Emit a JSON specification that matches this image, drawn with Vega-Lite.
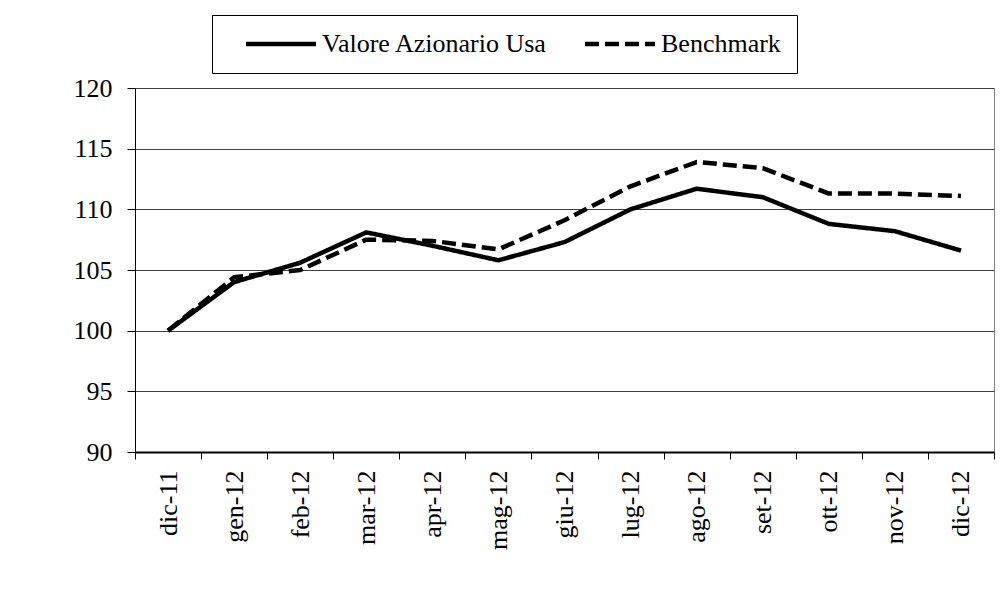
{
  "$schema": "https://vega.github.io/schema/vega-lite/v6.json",
  "width": 859,
  "height": 364,
  "autosize": {"type": "none"},
  "padding": {"left": 135, "top": 88, "right": 8, "bottom": 139},
  "background": "white",
  "data": {
    "values": [
      {"mese": "dic-11", "serie": "Valore Azionario Usa", "valore": 100.0},
      {"mese": "gen-12", "serie": "Valore Azionario Usa", "valore": 104.0},
      {"mese": "feb-12", "serie": "Valore Azionario Usa", "valore": 105.6},
      {"mese": "mar-12", "serie": "Valore Azionario Usa", "valore": 108.1},
      {"mese": "apr-12", "serie": "Valore Azionario Usa", "valore": 107.0},
      {"mese": "mag-12", "serie": "Valore Azionario Usa", "valore": 105.8},
      {"mese": "giu-12", "serie": "Valore Azionario Usa", "valore": 107.3},
      {"mese": "lug-12", "serie": "Valore Azionario Usa", "valore": 110.0},
      {"mese": "ago-12", "serie": "Valore Azionario Usa", "valore": 111.7},
      {"mese": "set-12", "serie": "Valore Azionario Usa", "valore": 111.0},
      {"mese": "ott-12", "serie": "Valore Azionario Usa", "valore": 108.8},
      {"mese": "nov-12", "serie": "Valore Azionario Usa", "valore": 108.2},
      {"mese": "dic-12", "serie": "Valore Azionario Usa", "valore": 106.6},
      {"mese": "dic-11", "serie": "Benchmark", "valore": 100.0},
      {"mese": "gen-12", "serie": "Benchmark", "valore": 104.4},
      {"mese": "feb-12", "serie": "Benchmark", "valore": 105.0},
      {"mese": "mar-12", "serie": "Benchmark", "valore": 107.5},
      {"mese": "apr-12", "serie": "Benchmark", "valore": 107.4},
      {"mese": "mag-12", "serie": "Benchmark", "valore": 106.7},
      {"mese": "giu-12", "serie": "Benchmark", "valore": 109.1},
      {"mese": "lug-12", "serie": "Benchmark", "valore": 111.9},
      {"mese": "ago-12", "serie": "Benchmark", "valore": 113.9},
      {"mese": "set-12", "serie": "Benchmark", "valore": 113.4},
      {"mese": "ott-12", "serie": "Benchmark", "valore": 111.3},
      {"mese": "nov-12", "serie": "Benchmark", "valore": 111.3},
      {"mese": "dic-12", "serie": "Benchmark", "valore": 111.1}
    ]
  },
  "mark": {"type": "line", "strokeWidth": 4.5, "strokeJoin": "round", "color": "black"},
  "encoding": {
    "x": {
      "field": "mese",
      "type": "ordinal",
      "sort": ["dic-11", "gen-12", "feb-12", "mar-12", "apr-12", "mag-12", "giu-12", "lug-12", "ago-12", "set-12", "ott-12", "nov-12", "dic-12"],
      "scale": {"type": "band", "paddingInner": 0, "paddingOuter": 0},
      "title": null,
      "axis": {
        "tickBand": "extent",
        "labelAngle": -90,
        "labelFont": "Liberation Serif",
        "labelFontSize": 26,
        "labelColor": "black",
        "labelPadding": 11,
        "tickSize": 7,
        "tickColor": "black",
        "domainColor": "black",
        "domainWidth": 2,
        "grid": false
      }
    },
    "y": {
      "field": "valore",
      "type": "quantitative",
      "scale": {"domain": [90, 120], "nice": false, "zero": false},
      "title": null,
      "axis": {
        "values": [90, 95, 100, 105, 110, 115, 120],
        "grid": true,
        "gridColor": "#404040",
        "gridWidth": 1,
        "gridOpacity": 1,
        "domainColor": "black",
        "tickColor": "black",
        "tickSize": 8,
        "labelFont": "Liberation Serif",
        "labelFontSize": 26,
        "labelColor": "black",
        "labelPadding": 15
      }
    },
    "strokeDash": {
      "field": "serie",
      "type": "nominal",
      "scale": {"domain": ["Valore Azionario Usa", "Benchmark"], "range": [[1, 0], [14, 6]]},
      "legend": {
        "orient": "none",
        "legendX": 77,
        "legendY": -73,
        "direction": "horizontal",
        "title": null,
        "symbolType": "M0,0H7",
        "symbolSize": 400,
        "symbolStrokeWidth": 4.5,
        "symbolStrokeColor": "black",
        "symbolFillColor": "transparent",
        "symbolOffset": 5,
        "labelOffset": 63,
        "labelFont": "Liberation Serif",
        "labelFontSize": 26,
        "labelColor": "black",
        "labelLimit": 400,
        "padding": 16,
        "strokeColor": "black",
        "fillColor": "white",
        "columnPadding": 19
      }
    }
  },
  "config": {
    "font": "Liberation Serif",
    "legend": {"labelFont": "Liberation Serif"},
    "view": {"stroke": "#808080", "strokeWidth": 1}
  }
}
